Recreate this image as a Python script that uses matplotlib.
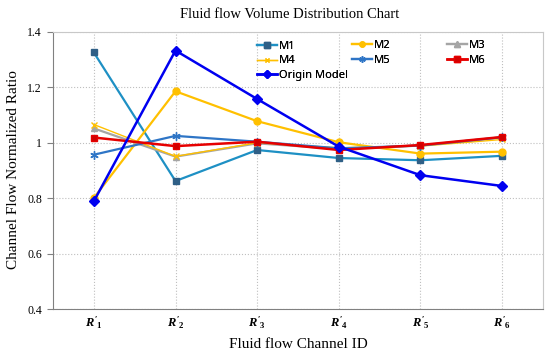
import numpy as np
import matplotlib
matplotlib.use("Agg")
import matplotlib.pyplot as plt

plt.rcParams['mathtext.fontset'] = 'custom'
plt.rcParams['mathtext.it'] = 'Liberation Serif:italic:bold'
plt.rcParams['mathtext.rm'] = 'Liberation Serif:bold'

channels = [r"$R'_1$", r"$R'_2$", r"$R'_3$", r"$R'_4$", r"$R'_5$", r"$R'_6$"]
m1 = [1.326, 0.862, 0.974, 0.945, 0.937, 0.953]
m2 = [0.801, 1.186, 1.078, 1.002, 0.961, 0.968]
m3 = [1.052, 0.950, 0.998, 0.978, 0.990, 1.020]
m4 = [1.066, 0.951, 1.000, 0.982, 0.988, 1.012]
m5 = [0.957, 1.025, 1.004, 0.980, 0.990, 1.020]
m6 = [1.019, 0.988, 1.004, 0.974, 0.992, 1.021]
origin = [0.789, 1.333, 1.158, 0.986, 0.883, 0.844]
yticks = [0.4, 0.6, 0.8, 1.0, 1.2, 1.4]
ytick_labels = ["0.4", "0.6", "0.8", "1", "1.2", "1.4"]

W, H = 550, 355
fig = plt.figure(figsize=(W/100, H/100), dpi=100)
ax = fig.add_axes([53/W, 1 - 309/H, 490/W, 277/H])

x = np.arange(1, len(channels) + 1)

lines = {}
lines['M1'], = ax.plot(x, m1, color='#1E90C4', lw=1.6, marker='s', ms=5,
                       mfc='#2F5F86', mec='#2F5F86', label='M1')
lines['M2'], = ax.plot(x, m2, color='#FFC000', lw=1.6, marker='o', ms=5, label='M2')
lines['M3'], = ax.plot(x, m3, color='#A5A5A5', lw=1.6, marker='^', ms=5, label='M3')
lines['M4'], = ax.plot(x, m4, color='#FFC000', lw=1.0, marker='x', ms=4, label='M4')
lines['M5'], = ax.plot(x, m5, color='#2E75C6', lw=1.6, marker=(6, 2, 0), ms=6,
                       label='M5')
lines['M6'], = ax.plot(x, m6, color='#E60000', lw=1.8, marker='s', ms=5,
                       mfc='#D00000', label='M6')
lines['Origin Model'], = ax.plot(x, origin, color='#0000F0', lw=1.8, marker='D', ms=5,
                                 label='Origin Model')

# legend: three separate columns, placed like the Excel layout
cols = [(['M1', 'M4', 'Origin Model'], 257, 61),
        (['M2', 'M5'], 352, 53),
        (['M3', 'M6'], 447, 53)]
for names, px, py in cols:
    leg = fig.legend([lines[k] for k in names], names, frameon=False,
                     loc='center left', bbox_to_anchor=(px/W, 1 - py/H),
                     prop={'family': 'Noto Sans', 'size': 8},
                     handlelength=1.8, handletextpad=0.15, labelspacing=0.3,
                     borderpad=0, borderaxespad=0, markerscale=0.75)
    fig.add_artist(leg)

ax.set_xlim(0.5, 6.5)
ax.set_ylim(0.4, 1.4)
ax.set_xticks(x)
ax.set_xticklabels(channels, fontsize=9)
ax.set_yticks(yticks)
ax.set_yticklabels(ytick_labels, fontfamily='Liberation Serif', fontsize=8.5)
ax.tick_params(axis='x', length=0, pad=4)
ax.tick_params(axis='y', length=4, color='#808080', pad=4)
ax.grid(True, ls=':', color='#BFBFBF', lw=0.8)

for s in ['left', 'bottom']:
    ax.spines[s].set_color('#808080')
for s in ['top', 'right']:
    ax.spines[s].set_color('#C8C8C8')

fig.text(290/W, 1 - 15/H, "Fluid flow Volume Distribution Chart",
         fontfamily='Liberation Serif', fontsize=10.5, ha='center', va='center')
fig.text(14/W, 1 - 170/H, "Channel Flow Normalized Ratio", rotation=90,
         fontfamily='Liberation Serif', fontsize=11, ha='center', va='center')
fig.text(298/W, 1 - 344/H, "Fluid flow Channel ID",
         fontfamily='Liberation Serif', fontsize=11, ha='center', va='center')

plt.savefig("out.png", dpi=100)
